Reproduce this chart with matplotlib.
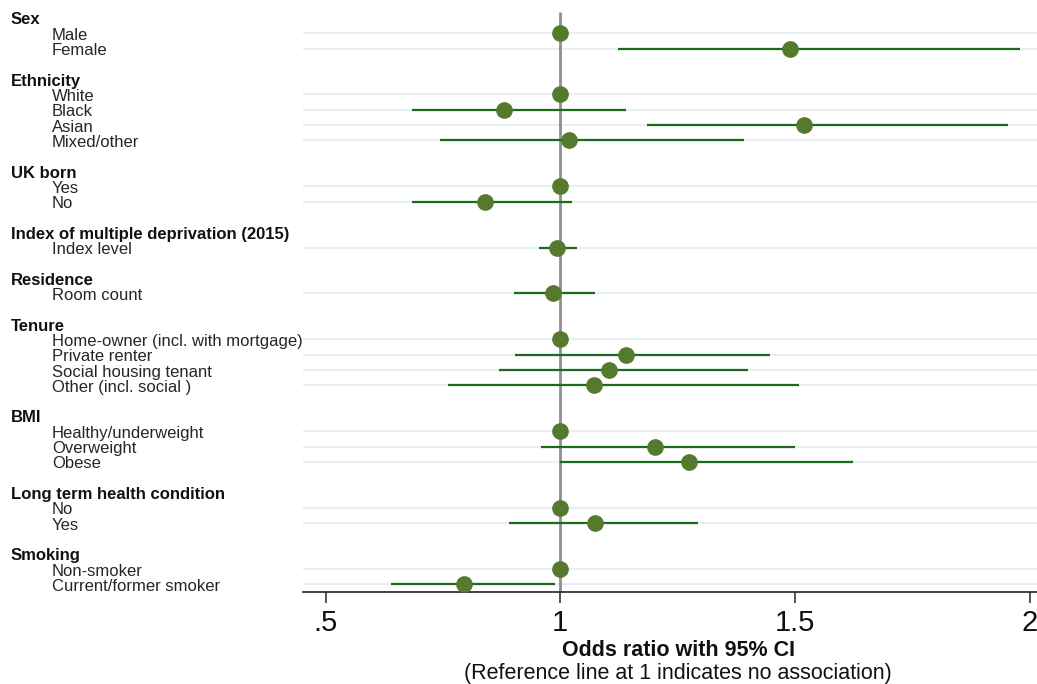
"""Forest plot: odds ratios with 95% CI by participant characteristic."""
import numpy as np
import matplotlib
matplotlib.use("Agg")
import matplotlib.pyplot as plt
from matplotlib import transforms

plt.rcParams["font.family"] = ["Liberation Sans", "DejaVu Sans"]

GROUPS = [
    "Sex", "Ethnicity", "UK born", "Index of multiple deprivation (2015)",
    "Residence", "Tenure", "BMI", "Long term health condition", "Smoking",
]
ITEMS = [
    ["Male", "Female"],
    ["White", "Black", "Asian", "Mixed/other"],
    ["Yes", "No"],
    ["Index level"],
    ["Room count"],
    ["Home-owner (incl. with mortgage)", "Private renter",
     "Social housing tenant", "Other (incl. social )"],
    ["Healthy/underweight", "Overweight", "Obese"],
    ["No", "Yes"],
    ["Non-smoker", "Current/former smoker"],
]
# NaN CI = reference category (point at 1, no bar)
OR = [1, 1.49, 1, 0.881, 1.52, 1.018, 1, 0.839, 0.994, 0.984,
      1, 1.141, 1.103, 1.071, 1, 1.201, 1.275, 1, 1.075, 1, 0.794]
CI_LO = [np.nan, 1.122, np.nan, 0.684, 1.184, 0.743, np.nan, 0.684, 0.954, 0.901,
         np.nan, 0.903, 0.869, 0.760, np.nan, 0.960, 1.000, np.nan, 0.890, np.nan, 0.639]
CI_HI = [np.nan, 1.980, np.nan, 1.139, 1.954, 1.392, np.nan, 1.026, 1.035, 1.075,
         np.nan, 1.447, 1.399, 1.509, np.nan, 1.500, 1.624, np.nan, 1.294, np.nan, 0.988]
XTICKS = [0.5, 1, 1.5, 2]
XTICKLABELS = [".5", "1", "1.5", "2"]

MARKER_COLOR = "#557a2e"
CI_COLOR = "#1d6a1d"
GRID_COLOR = "#e6eff1"
REF_COLOR = "#8f8f8f"


def layout_rows():
    """Row index for each header and item; one blank row between groups."""
    header_rows, item_rows, labels = [], [], []
    r = 0
    for g, items in zip(GROUPS, ITEMS):
        header_rows.append(r)
        r += 1
        for it in items:
            item_rows.append(r)
            labels.append(it)
            r += 1
        r += 1
    return header_rows, item_rows, labels


def main():
    W, H = 1037, 684
    fig = plt.figure(figsize=(W / 100, H / 100), dpi=100)
    ax = fig.add_axes([303 / W, 1 - 592 / H, 734 / W, 584 / H])

    header_rows, item_rows, labels = layout_rows()
    y = np.array(item_rows, dtype=float)

    ax.hlines(y, 0, 1, transform=ax.get_yaxis_transform(),
              color=GRID_COLOR, lw=1.6, zorder=0)
    ax.plot([1, 1], [-0.4, 37.6], color=REF_COLOR, lw=2.0, zorder=1,
            solid_capstyle="butt")
    ax.hlines(y, CI_LO, CI_HI, color=CI_COLOR, lw=1.6, zorder=2)
    ax.plot(OR, y, "o", color=MARKER_COLOR, ms=11, mec=MARKER_COLOR, zorder=3)

    ax.set_xlim(0.452, 2.0155)
    ax.set_ylim(37.5, -0.65)
    ax.set_yticks([])
    for s in ["top", "right", "left"]:
        ax.spines[s].set_visible(False)
    ax.spines["bottom"].set_color("#333333")
    ax.spines["bottom"].set_linewidth(1.3)
    ax.set_xticks(XTICKS)
    ax.set_xticklabels(XTICKLABELS)
    ax.tick_params(axis="x", length=8, width=1.2, color="#333333",
                   labelsize=21, pad=4, labelcolor="#111111")

    # labels sit left of the plotting area, in figure-x / data-y coordinates
    trans = transforms.blended_transform_factory(fig.transFigure, ax.transData)
    dy = 0.13  # nudge text down onto its gridline
    for g, r in zip(GROUPS, header_rows):
        ax.text(11 / W, r + dy, g, transform=trans, ha="left", va="center",
                fontsize=12, fontweight="bold", color="#111111")
    for lab, r in zip(labels, item_rows):
        ax.text(52 / W, r + dy, lab, transform=trans, ha="left", va="center",
                fontsize=12, color="#262626")

    fig.text(678 / W, 1 - 651 / H, "Odds ratio with 95% CI", ha="center",
             va="center", fontsize=15.5, fontweight="bold", color="#111111")
    fig.text(678 / W, 1 - 673 / H, "(Reference line at 1 indicates no association)",
             ha="center", va="center", fontsize=15.5, color="#111111")

    fig.savefig("out.png", dpi=100)
    plt.close(fig)


if __name__ == "__main__":
    main()
